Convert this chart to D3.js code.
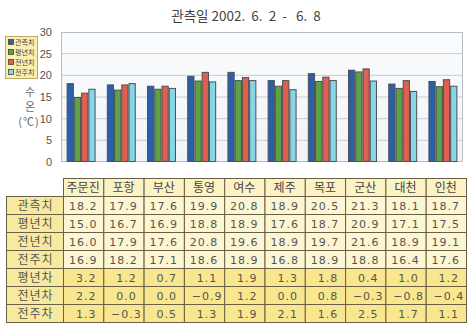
<!DOCTYPE html>
<html>
<head>
<meta charset="utf-8">
<script src="https://cdn.jsdelivr.net/npm/d3@7"></script>
<style>
  html, body { margin: 0; padding: 0; background: #fff; }
  svg { display: block; }
</style>
</head>
<body>
<svg id="chart" width="472" height="331"></svg>
<script>
// Stations and weekly sea-water temperatures (℃)
const stations = ["주문진", "포항", "부산", "통영", "여수", "제주", "목포", "군산", "대천", "인천"];
const observed = [18.2, 17.9, 17.6, 19.9, 20.8, 18.9, 20.5, 21.3, 18.1, 18.7];
const normalYear = [15.0, 16.7, 16.9, 18.8, 18.9, 17.6, 18.7, 20.9, 17.1, 17.5];
const lastYear = [16.0, 17.9, 17.6, 20.8, 19.6, 18.9, 19.7, 21.6, 18.9, 19.1];
const lastWeek = [16.9, 18.2, 17.1, 18.6, 18.9, 16.8, 18.9, 18.8, 16.4, 17.6];
const diffNormal = [3.2, 1.2, 0.7, 1.1, 1.9, 1.3, 1.8, 0.4, 1.0, 1.2];
const diffLastYear = [2.2, 0.0, 0.0, -0.9, 1.2, 0.0, 0.8, -0.3, -0.8, -0.4];
const diffLastWeek = [1.3, -0.3, 0.5, 1.3, 1.9, 2.1, 1.6, 2.5, 1.7, 1.1];

const seriesNames = ["관측치", "평년치", "전년치", "전주치"];
const seriesColors = ["#2b5fa8", "#5ba344", "#e0604f", "#86d6e6"];
const diffNames = ["평년차", "전년차", "전주차"];
const yTicks = [0, 5, 10, 15, 20, 25, 30];

const seriesValues = [observed, normalYear, lastYear, lastWeek];
const diffValues = [diffNormal, diffLastYear, diffLastWeek];

const svg = d3.select("#chart");
const KR = "'Noto Sans CJK KR', 'Noto Sans', sans-serif";

// Title
svg.append("text")
  .attr("x", 246).attr("y", 21)
  .attr("text-anchor", "middle")
  .attr("font-family", KR).attr("font-size", 13.5)
  .attr("fill", "#444")
  .attr("xml:space", "preserve")
  .text("관측일 2002.  6.  2  -   6.  8");

// Plot area
const plot = { left: 61, right: 463, top: 32, bottom: 162 };

const x = d3.scaleBand().domain(stations).range([plot.left, plot.right]).paddingInner(0.28).paddingOuter(0.14);
const xs = d3.scaleBand().domain(d3.range(4)).range([0, x.bandwidth()]);
const y = d3.scaleLinear().domain([0, 30]).range([plot.bottom, plot.top]);

const defs = svg.append("defs");
const grad = defs.append("linearGradient").attr("id", "plotBg").attr("x1", 0).attr("y1", 0).attr("x2", 0).attr("y2", 1);
grad.append("stop").attr("offset", 0).attr("stop-color", "#fbfcfd");
grad.append("stop").attr("offset", 1).attr("stop-color", "#f1f3f6");

svg.append("rect")
  .attr("x", plot.left).attr("y", plot.top)
  .attr("width", plot.right - plot.left).attr("height", plot.bottom - plot.top)
  .attr("fill", "url(#plotBg)");

// Gridlines
svg.append("g")
  .selectAll("line").data(yTicks.slice(1, -1)).join("line")
  .attr("x1", plot.left).attr("x2", plot.right)
  .attr("y1", d => y(d)).attr("y2", d => y(d))
  .attr("stroke", "#c9ccd2").attr("stroke-width", 1);

svg.append("rect")
  .attr("x", plot.left + 0.5).attr("y", plot.top + 0.5)
  .attr("width", plot.right - plot.left - 1).attr("height", plot.bottom - plot.top - 1)
  .attr("fill", "none").attr("stroke", "#b8bcc3");

// Y axis ticks
const yAxis = d3.axisLeft(y).tickValues(yTicks).tickSize(0).tickPadding(9);
const yg = svg.append("g").attr("transform", `translate(${plot.left},0)`).call(yAxis);
yg.select(".domain").remove();
yg.selectAll("text").attr("font-family", "'Liberation Sans', Arial, sans-serif").attr("font-size", 11).attr("fill", "#555");

// Y axis title
const yTitle = svg.append("g").attr("font-family", KR).attr("font-size", 11).attr("fill", "#666").attr("text-anchor", "middle");
yTitle.append("text").attr("x", 30).attr("y", 96).text("수");
yTitle.append("text").attr("x", 30).attr("y", 111).text("온");
yTitle.append("text").attr("x", 29).attr("y", 126).attr("letter-spacing", 1).text("(℃)");

// Bars
const groups = svg.append("g").selectAll("g").data(stations).join("g")
  .attr("transform", d => `translate(${x(d)},0)`);
groups.selectAll("rect")
  .data((d, i) => seriesValues.map((vals, s) => ({ s, v: vals[i] })))
  .join("rect")
  .attr("x", d => xs(d.s) + 0.5)
  .attr("y", d => y(d.v) + 0.5)
  .attr("width", xs.bandwidth() - 1)
  .attr("height", d => plot.bottom - y(d.v) - 1)
  .attr("fill", d => seriesColors[d.s])
  .attr("stroke", "#4d4f55").attr("stroke-width", 1);

// Legend
const lg = svg.append("g");
lg.append("rect").attr("x", 5.5).attr("y", 36.5).attr("width", 32).attr("height", 42)
  .attr("fill", "#fbefb0").attr("stroke", "#b7a968");
seriesNames.forEach((name, i) => {
  const yy = 42 + i * 10;
  lg.append("rect").attr("x", 8.5).attr("y", yy - 2.5).attr("width", 5).attr("height", 5)
    .attr("fill", seriesColors[i]).attr("stroke", "#444").attr("stroke-width", 0.8);
  lg.append("text").attr("x", 15).attr("y", yy + 3)
    .attr("font-family", KR).attr("font-size", 7).attr("fill", "#444").text(name);
});

// Data table
const table = { left: 63, right: 466, labelLeft: 6, top: 178, rowH: 18 };
const tx = d3.scaleBand().domain(stations).range([table.left, table.right]);
const rows = seriesNames.map((n, i) => ({ name: n, vals: seriesValues[i], diff: false }))
  .concat(diffNames.map((n, i) => ({ name: n, vals: diffValues[i], diff: true })));

const tg = svg.append("g").attr("font-family", KR).attr("fill", "#333");
const border = "#6b5f45";
const fmt = d3.format(".1f");
const fmtVal = v => (v < 0 ? "−" + fmt(-v) : fmt(v));

// header row
stations.forEach(st => {
  tg.append("rect").attr("x", tx(st) + 0.5).attr("y", table.top + 0.5)
    .attr("width", tx.bandwidth()).attr("height", table.rowH)
    .attr("fill", "#fcf3c4").attr("stroke", border);
  tg.append("text").attr("x", tx(st) + tx.bandwidth() / 2).attr("y", table.top + 14)
    .attr("text-anchor", "middle").attr("font-size", 12).attr("fill", "#444").text(st);
});

rows.forEach((row, r) => {
  const ry = table.top + table.rowH * (r + 1);
  tg.append("rect").attr("x", table.labelLeft + 0.5).attr("y", ry + 0.5)
    .attr("width", table.left - table.labelLeft).attr("height", table.rowH)
    .attr("fill", "#f8e9a0").attr("stroke", border);
  tg.append("text").attr("x", (table.labelLeft + table.left) / 2 + 1).attr("y", ry + 14)
    .attr("text-anchor", "middle").attr("font-size", 12).attr("letter-spacing", 1).attr("fill", "#555").text(row.name);
  stations.forEach((st, c) => {
    tg.append("rect").attr("x", tx(st) + 0.5).attr("y", ry + 0.5)
      .attr("width", tx.bandwidth()).attr("height", table.rowH)
      .attr("fill", row.diff ? "#f8e78e" : "#fdf6d2").attr("stroke", border);
    tg.append("text").attr("x", tx(st) + tx.bandwidth() / 2 + (row.diff ? 3 : 0)).attr("y", ry + 14)
      .attr("text-anchor", "middle")
      .attr("font-family", "'DejaVu Sans', sans-serif")
      .attr("font-size", 11).attr("letter-spacing", 1).attr("fill", "#555")
      .text(fmtVal(row.vals[c]));
  });
});
</script>
</body>
</html>
